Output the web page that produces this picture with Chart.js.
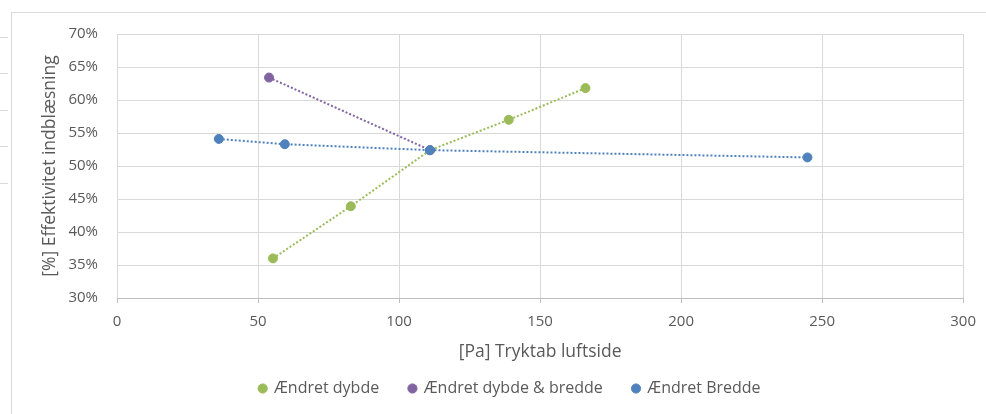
<!DOCTYPE html>
<html>
<head>
<meta charset="utf-8">
<title>Effektivitet indblæsning</title>
<script src="https://cdn.jsdelivr.net/npm/chart.js@4.4.1/dist/chart.umd.min.js"></script>
<style>
    body { margin: 0; background: #fff; }
    #wrap { position: relative; width: 986px; height: 414px; overflow: hidden; }
    .frame { position: absolute; left: 11px; top: 12px; right: 0; bottom: 0; border-left: 1px solid #d9d9d9; border-top: 1px solid #d9d9d9; }
    .mark { position: absolute; left: 0; width: 8px; height: 1px; background: #d9d9d9; }
    canvas { position: absolute; left: 0; top: 0; }
</style>
</head>
<body>
<div id="wrap">
    <div class="frame"></div>
    <div class="mark" style="top:37px"></div>
    <div class="mark" style="top:73px"></div>
    <div class="mark" style="top:110px"></div>
    <div class="mark" style="top:146px"></div>
    <div class="mark" style="top:183px"></div>
    <canvas id="chart" width="986" height="414"></canvas>
</div>
<script>
// values: x = pressure drop [Pa], y = efficiency [%]
const seriesNames = ['Ændret dybde', 'Ændret dybde & bredde', 'Ændret Bredde'];

const dybdeX = [55.3, 82.9, 111, 138.9, 166.1];
const dybdeY = [36.0, 43.9, 52.4, 57.0, 61.8];

const dybdeBreddeX = [53.9, 111];
const dybdeBreddeY = [63.4, 52.4];

const breddeX = [36.1, 59.5, 110.9, 244.8];
const breddeY = [54.1, 53.3, 52.4, 51.3];

const xTicks = [0, 50, 100, 150, 200, 250, 300];
const yTicks = [30, 35, 40, 45, 50, 55, 60, 65, 70];

const colors = ['#9bbb59', '#8064a2', '#4f81bd'];

function toPoints(xs, ys) {
    return xs.map((x, i) => ({ x: x, y: ys[i] }));
}

function makeSet(i, xs, ys, order) {
    return {
        label: seriesNames[i],
        data: toPoints(xs, ys),
        showLine: true,
        borderColor: colors[i],
        backgroundColor: colors[i],
        borderWidth: 2,
        borderDash: [2, 2],
        pointRadius: 4.5,
        pointHoverRadius: 4.5,
        pointBorderWidth: 1,
        pointBorderColor: colors[i],
        pointBackgroundColor: colors[i],
        order: order
    };
}

// legend sits a little right of centre in the original
const legendShift = {
    id: 'legendShift',
    afterLayout(chart) {
        chart.legend.left += 21;
    }
};

Chart.defaults.font.family = "'Open Sans', sans-serif";
Chart.defaults.font.size = 15;
Chart.defaults.color = '#595959';

new Chart(document.getElementById('chart'), {
    type: 'scatter',
    data: {
        datasets: [
            makeSet(0, dybdeX, dybdeY, 2),
            makeSet(1, dybdeBreddeX, dybdeBreddeY, 1),
            makeSet(2, breddeX, breddeY, 0)
        ]
    },
    options: {
        responsive: false,
        animation: false,
        devicePixelRatio: 1,
        layout: { padding: { left: 35, right: 22, top: 34, bottom: 7.5 } },
        plugins: {
            tooltip: { enabled: false },
            legend: {
                position: 'bottom',
                labels: {
                    usePointStyle: true,
                    pointStyle: 'circle',
                    boxWidth: 6.5,
                    boxHeight: 6.5,
                    padding: 30,
                    font: { size: 16 },
                    sort: (a, b) => a.datasetIndex - b.datasetIndex
                }
            }
        },
        scales: {
            x: {
                type: 'linear',
                min: 0,
                max: 300,
                afterBuildTicks: (scale) => { scale.ticks = xTicks.map(v => ({ value: v })); },
                afterFit: (scale) => { scale.height = 52.5; },
                grid: { color: '#d9d9d9', tickColor: '#bfbfbf', tickLength: 5 },
                border: { color: '#bfbfbf' },
                ticks: { padding: 10, maxRotation: 0 },
                title: { display: true, text: '[Pa] Tryktab luftside', font: { size: 17.5 }, padding: { top: 0, bottom: -12 } }
            },
            y: {
                min: 30,
                max: 70,
                afterBuildTicks: (scale) => { scale.ticks = yTicks.map(v => ({ value: v })); },
                afterFit: (scale) => { scale.width = 82; },
                grid: { color: '#d9d9d9', drawTicks: false },
                border: { display: false },
                ticks: { padding: 19, callback: (v) => v + '%' },
                title: { display: true, text: '[%] Effektivitet indblæsning', font: { size: 17.5 }, padding: { top: 4.5, bottom: 0 } }
            }
        }
    },
    plugins: [legendShift]
});
</script>
</body>
</html>
